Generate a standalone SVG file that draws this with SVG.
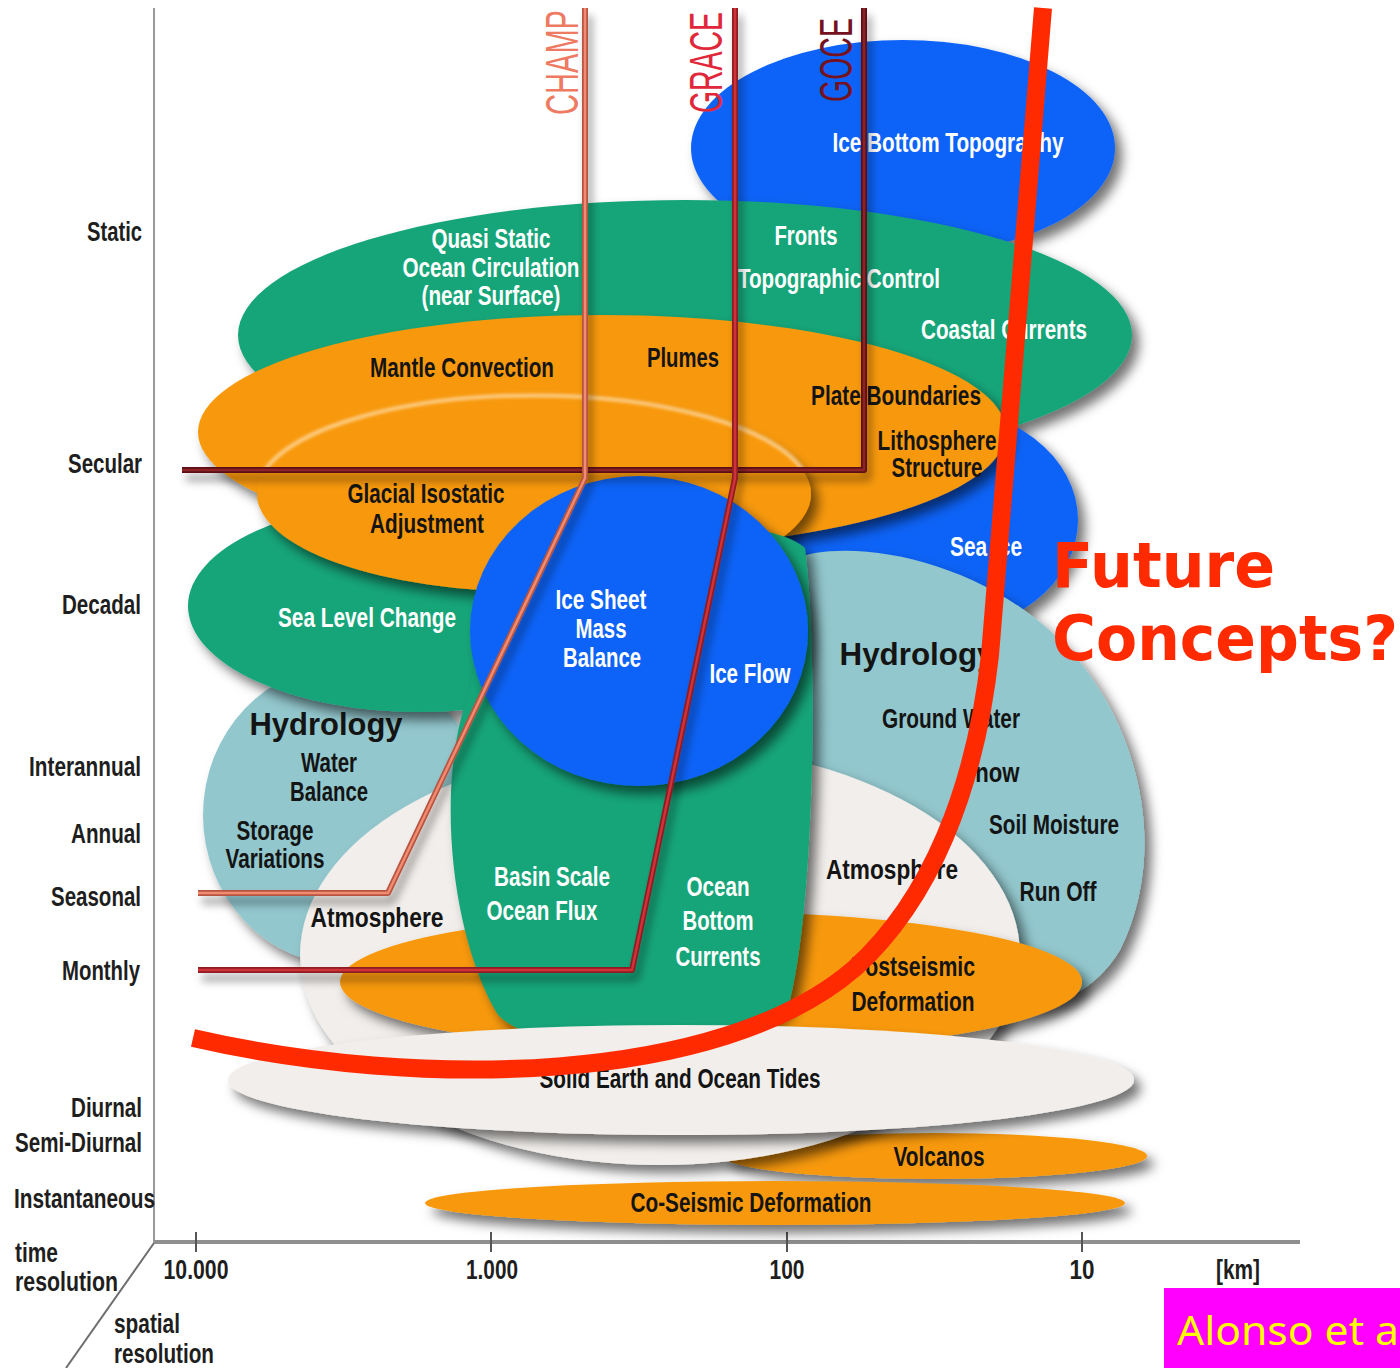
<svg xmlns="http://www.w3.org/2000/svg" width="1400" height="1368" viewBox="0 0 1400 1368">
<defs>
<filter id="sh" filterUnits="userSpaceOnUse" x="0" y="0" width="1400" height="1368">
<feDropShadow dx="7" dy="8" stdDeviation="6" flood-color="#000" flood-opacity="0.55"/>
</filter>
<filter id="lsh" filterUnits="userSpaceOnUse" x="0" y="0" width="1400" height="1368">
<feDropShadow dx="4" dy="8" stdDeviation="4" flood-color="#000" flood-opacity="0.4"/>
</filter>
<filter id="glow" filterUnits="userSpaceOnUse" x="0" y="0" width="1400" height="1368">
<feGaussianBlur stdDeviation="1.5"/>
</filter>
</defs>
<style>
.t{font-family:"Liberation Sans Narrow","Liberation Sans",Arial,sans-serif;font-weight:bold;font-size:27px;text-anchor:middle}
.w{fill:#ffffff}
.k{fill:#141414}
.ax{font-family:"Liberation Sans Narrow","Liberation Sans",Arial,sans-serif;font-weight:bold;font-size:27px;fill:#1e1e1e;text-anchor:end}
.axs{font-family:"Liberation Sans Narrow","Liberation Sans",Arial,sans-serif;font-weight:bold;font-size:27px;fill:#1e1e1e;text-anchor:start}
.axm{font-family:"Liberation Sans Narrow","Liberation Sans",Arial,sans-serif;font-weight:bold;font-size:27px;fill:#1e1e1e;text-anchor:middle}
.hy{font-family:"Liberation Sans",Arial,sans-serif;font-weight:bold;font-size:31px;fill:#141414;text-anchor:middle}
.blue{fill:#0d63f7}
.green{fill:#18a579}
.orange{fill:#f8990a}
.lblue{fill:#92c7cd}
.white{fill:#f1eeeb}
.sat{font-family:"Liberation Sans Narrow","Liberation Sans",Arial,sans-serif;font-size:46px}
</style>
<rect width="1400" height="1368" fill="#ffffff"/>

<g id="axes">
<line x1="154" y1="8" x2="154" y2="1243" stroke="#9a9a9a" stroke-width="2"/>
<line x1="154" y1="1242" x2="1300" y2="1242" stroke="#8f8f8f" stroke-width="4"/>
<line x1="154" y1="1243" x2="66" y2="1368" stroke="#6e6e6e" stroke-width="2"/>
<g stroke="#555" stroke-width="2">
<line x1="196" y1="1232" x2="196" y2="1252"/>
<line x1="491" y1="1232" x2="491" y2="1252"/>
<line x1="787" y1="1232" x2="787" y2="1252"/>
<line x1="1082" y1="1232" x2="1082" y2="1252"/>
</g>
<text class="ax" x="142" y="241" textLength="55" lengthAdjust="spacingAndGlyphs">Static</text>
<text class="ax" x="142" y="473" textLength="74" lengthAdjust="spacingAndGlyphs">Secular</text>
<text class="ax" x="141" y="614" textLength="79" lengthAdjust="spacingAndGlyphs">Decadal</text>
<text class="ax" x="141" y="776" textLength="112" lengthAdjust="spacingAndGlyphs">Interannual</text>
<text class="ax" x="141" y="843" textLength="70" lengthAdjust="spacingAndGlyphs">Annual</text>
<text class="ax" x="141" y="906" textLength="90" lengthAdjust="spacingAndGlyphs">Seasonal</text>
<text class="ax" x="140" y="980" textLength="78" lengthAdjust="spacingAndGlyphs">Monthly</text>
<text class="ax" x="142" y="1117" textLength="71" lengthAdjust="spacingAndGlyphs">Diurnal</text>
<text class="ax" x="142" y="1152" textLength="127" lengthAdjust="spacingAndGlyphs">Semi-Diurnal</text>
<text class="ax" x="155" y="1208" textLength="141" lengthAdjust="spacingAndGlyphs">Instantaneous</text>
<text class="axs" x="15" y="1262" textLength="43" lengthAdjust="spacingAndGlyphs">time</text>
<text class="axs" x="15" y="1291" textLength="103" lengthAdjust="spacingAndGlyphs">resolution</text>
<text class="axs" x="114" y="1333" textLength="66" lengthAdjust="spacingAndGlyphs">spatial</text>
<text class="axs" x="114" y="1363" textLength="100" lengthAdjust="spacingAndGlyphs">resolution</text>
<text class="axm" x="196" y="1279" textLength="65" lengthAdjust="spacingAndGlyphs">10.000</text>
<text class="axm" x="492" y="1279" textLength="52" lengthAdjust="spacingAndGlyphs">1.000</text>
<text class="axm" x="787" y="1279" textLength="35" lengthAdjust="spacingAndGlyphs">100</text>
<text class="axm" x="1082" y="1279" textLength="25" lengthAdjust="spacingAndGlyphs">10</text>
<text class="axm" x="1238" y="1279" textLength="44" lengthAdjust="spacingAndGlyphs">[km]</text>
</g>

<g id="volcanos">
<ellipse class="orange" cx="935" cy="1156" rx="212" ry="23" filter="url(#sh)"/>
<text class="t k" x="939" y="1166" textLength="91" lengthAdjust="spacingAndGlyphs">Volcanos</text>
</g>

<g id="ice-bottom-topography">
<ellipse class="blue" cx="903" cy="148" rx="212" ry="108" filter="url(#sh)"/>
<text class="t w" x="948" y="152" textLength="231" lengthAdjust="spacingAndGlyphs">Ice Bottom Topography</text>
</g>

<g id="ocean-circulation">
<ellipse class="green" cx="685" cy="335" rx="447" ry="135" filter="url(#sh)"/>
<text class="t w" x="491" y="248" textLength="119" lengthAdjust="spacingAndGlyphs">Quasi Static</text>
<text class="t w" x="491" y="277" textLength="177" lengthAdjust="spacingAndGlyphs">Ocean Circulation</text>
<text class="t w" x="491" y="305" textLength="139" lengthAdjust="spacingAndGlyphs">(near Surface)</text>
<text class="t w" x="806" y="245" textLength="63" lengthAdjust="spacingAndGlyphs">Fronts</text>
<text class="t w" x="839" y="288" textLength="202" lengthAdjust="spacingAndGlyphs">Topographic Control</text>
<text class="t w" x="1004" y="339" textLength="166" lengthAdjust="spacingAndGlyphs">Coastal Currents</text>
</g>

<g id="sea-ice">
<ellipse class="blue" cx="930" cy="520" rx="148" ry="115" filter="url(#sh)"/>
<text class="t w" x="986" y="556" textLength="72" lengthAdjust="spacingAndGlyphs">Sea Ice</text>
</g>

<g id="mantle-convection">
<ellipse class="orange" cx="602" cy="432" rx="404" ry="117" filter="url(#sh)"/>
<text class="t k" x="462" y="377" textLength="184" lengthAdjust="spacingAndGlyphs">Mantle Convection</text>
<text class="t k" x="683" y="367" textLength="72" lengthAdjust="spacingAndGlyphs">Plumes</text>
<text class="t k" x="896" y="405" textLength="170" lengthAdjust="spacingAndGlyphs">Plate Boundaries</text>
<text class="t k" x="937" y="450" textLength="119" lengthAdjust="spacingAndGlyphs">Lithosphere</text>
<text class="t k" x="937" y="477" textLength="91" lengthAdjust="spacingAndGlyphs">Structure</text>
</g>

<g id="hydrology-left">
<ellipse class="lblue" cx="345" cy="815" rx="142" ry="150" filter="url(#sh)"/>
<text class="hy" x="326" y="735" textLength="153" lengthAdjust="spacingAndGlyphs">Hydrology</text>
<text class="t k" x="329" y="772" textLength="56" lengthAdjust="spacingAndGlyphs">Water</text>
<text class="t k" x="329" y="801" textLength="78" lengthAdjust="spacingAndGlyphs">Balance</text>
<text class="t k" x="275" y="840" textLength="77" lengthAdjust="spacingAndGlyphs">Storage</text>
<text class="t k" x="275" y="868" textLength="99" lengthAdjust="spacingAndGlyphs">Variations</text>
</g>

<g id="sea-level-change">
<ellipse class="green" cx="420" cy="606" rx="232" ry="106" filter="url(#sh)"/>
<text class="t w" x="367" y="627" textLength="178" lengthAdjust="spacingAndGlyphs">Sea Level Change</text>
</g>

<g id="glacial-isostatic-adjustment">
<ellipse class="orange" cx="534" cy="494" rx="277" ry="98" filter="url(#sh)"/>
<path d="M265,470 A277,98 0 0 1 803,470" fill="none" stroke="#ffd89c" stroke-width="4" opacity="0.8" filter="url(#glow)"/>
<text class="t k" x="426" y="503" textLength="157" lengthAdjust="spacingAndGlyphs">Glacial Isostatic</text>
<text class="t k" x="427" y="533" textLength="114" lengthAdjust="spacingAndGlyphs">Adjustment</text>
</g>

<g id="hydrology-right">
<path class="lblue" d="M790,560 C850,535 980,560 1060,640 C1140,720 1170,850 1120,950 C1090,1000 1040,1015 980,1005 L790,1000 Z" filter="url(#sh)"/>
<text class="hy" x="917" y="665" textLength="155" lengthAdjust="spacingAndGlyphs">Hydrology</text>
<text class="t k" x="951" y="728" textLength="138" lengthAdjust="spacingAndGlyphs">Ground Water</text>
<text class="t k" x="990" y="782" textLength="59" lengthAdjust="spacingAndGlyphs">Snow</text>
<text class="t k" x="1054" y="834" textLength="130" lengthAdjust="spacingAndGlyphs">Soil Moisture</text>
<text class="t k" x="1058" y="901" textLength="77" lengthAdjust="spacingAndGlyphs">Run Off</text>
</g>

<g id="atmosphere">
<ellipse class="white" cx="660" cy="955" rx="360" ry="210" filter="url(#sh)"/>
<text class="t k" x="377" y="927" textLength="133" lengthAdjust="spacingAndGlyphs">Atmosphere</text>
<text class="t k" x="892" y="879" textLength="132" lengthAdjust="spacingAndGlyphs">Atmosphere</text>
</g>

<g id="postseismic-deformation">
<ellipse class="orange" cx="711" cy="982" rx="371" ry="70" filter="url(#sh)"/>
<text class="t k" x="913" y="976" textLength="124" lengthAdjust="spacingAndGlyphs">Postseismic</text>
<text class="t k" x="913" y="1011" textLength="123" lengthAdjust="spacingAndGlyphs">Deformation</text>
</g>

<g id="ocean-flux">
<path class="green" d="M520,560 C600,515 770,515 805,548 C818,650 815,900 790,1000 C770,1060 520,1060 495,1010 C450,930 435,780 470,690 C480,640 490,590 520,560 Z" filter="url(#sh)"/>
<text class="t w" x="552" y="886" textLength="116" lengthAdjust="spacingAndGlyphs">Basin Scale</text>
<text class="t w" x="542" y="920" textLength="111" lengthAdjust="spacingAndGlyphs">Ocean Flux</text>
<text class="t w" x="718" y="896" textLength="63" lengthAdjust="spacingAndGlyphs">Ocean</text>
<text class="t w" x="718" y="930" textLength="71" lengthAdjust="spacingAndGlyphs">Bottom</text>
<text class="t w" x="718" y="966" textLength="85" lengthAdjust="spacingAndGlyphs">Currents</text>
</g>

<g id="ice-sheet-mass-balance">
<ellipse class="blue" cx="639" cy="631" rx="169" ry="155" filter="url(#sh)"/>
<text class="t w" x="601" y="609" textLength="91" lengthAdjust="spacingAndGlyphs">Ice Sheet</text>
<text class="t w" x="601" y="638" textLength="51" lengthAdjust="spacingAndGlyphs">Mass</text>
<text class="t w" x="602" y="667" textLength="78" lengthAdjust="spacingAndGlyphs">Balance</text>
<text class="t w" x="750" y="683" textLength="81" lengthAdjust="spacingAndGlyphs">Ice Flow</text>
</g>

<g id="tides">
<ellipse class="white" cx="681" cy="1080" rx="453" ry="55" filter="url(#sh)"/>
<text class="t k" x="680" y="1088" textLength="281" lengthAdjust="spacingAndGlyphs">Solid Earth and Ocean Tides</text>
</g>

<g id="co-seismic-deformation">
<ellipse class="orange" cx="775" cy="1203" rx="350" ry="22" filter="url(#sh)"/>
<text class="t k" x="751" y="1212" textLength="241" lengthAdjust="spacingAndGlyphs">Co-Seismic Deformation</text>
</g>

<g id="connectors" fill="none" stroke-linejoin="round">
<g filter="url(#lsh)">
<path d="M864,8 L864,470 L182,470" stroke="#5c0e15" stroke-width="6"/>
<path d="M864,8 L864,470 L182,470" stroke="#8c2029" stroke-width="2.5"/>
</g>
<g filter="url(#lsh)">
<path d="M735,8 L735,478 L632,970 L198,970" stroke="#8e1b22" stroke-width="6"/>
<path d="M735,8 L735,478 L632,970 L198,970" stroke="#cf3139" stroke-width="2.5"/>
</g>
<g filter="url(#lsh)">
<path d="M585,8 L585,478 L388,893 L198,893" stroke="#b8543f" stroke-width="6"/>
<path d="M585,8 L585,478 L388,893 L198,893" stroke="#f08c73" stroke-width="2.5"/>
</g>
<path id="future-curve" d="M193,1038 C420,1090 720,1085 855,968 C930,900 975,790 990,655 L1043,8" stroke="#ff2a00" stroke-width="18"/>
</g>

<g id="satellites">
<text class="sat" transform="translate(578,115) rotate(-90)" fill="#ee7a62" textLength="105" lengthAdjust="spacingAndGlyphs">CHAMP</text>
<text class="sat" transform="translate(722,113) rotate(-90)" fill="#e0283a" textLength="101" lengthAdjust="spacingAndGlyphs">GRACE</text>
<text class="sat" transform="translate(852,102) rotate(-90)" fill="#74121f" textLength="84" lengthAdjust="spacingAndGlyphs">GOCE</text>
</g>

<g id="future-concepts" font-family="'DejaVu Sans',Verdana,sans-serif" font-weight="bold" font-size="62" fill="#ff2a00">
<text x="1052" y="587" textLength="223" lengthAdjust="spacingAndGlyphs">Future</text>
<text x="1052" y="660" textLength="346" lengthAdjust="spacingAndGlyphs">Concepts?</text>
</g>

<g id="citation">
<rect x="1164" y="1288" width="236" height="80" fill="#ff00ff"/>
<text x="1177" y="1345" font-family="'Noto Sans','Open Sans',sans-serif" font-size="40" fill="#ffff00" textLength="222" lengthAdjust="spacingAndGlyphs">Alonso et a</text>
</g>
</svg>
